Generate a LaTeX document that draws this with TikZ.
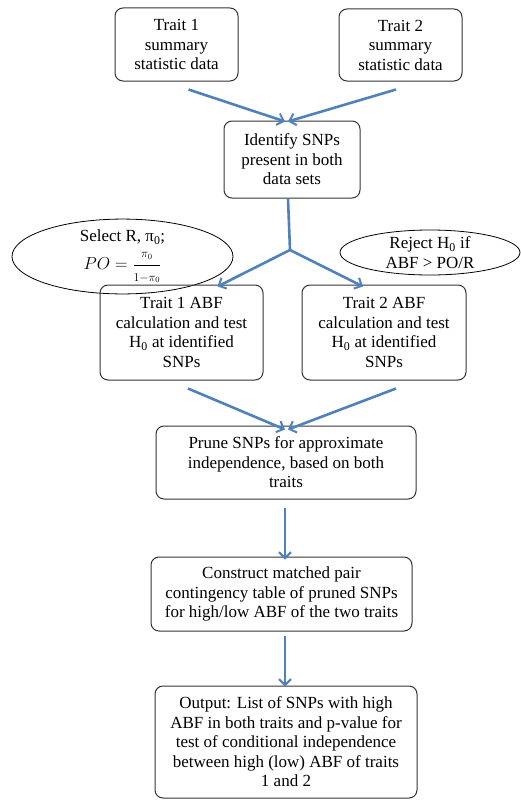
\documentclass[tikz,border=0pt]{standalone}
\usepackage{fontspec}
\setmainfont{Liberation Serif}
\usetikzlibrary{arrows.meta,calc,shapes.geometric}
\definecolor{arrblue}{HTML}{4F81BD}
\begin{document}
\begin{tikzpicture}[x=1pt,y=-1pt,
  box/.style={draw=black!80,line width=1pt,rounded corners=8pt,align=center,inner sep=2pt,font=\fontsize{17}{19.5}\selectfont},
  ell/.style={draw=black,line width=0.8pt,ellipse,align=center,inner sep=0pt,font=\fontsize{17}{19.5}\selectfont},
  arr/.style={draw=arrblue,line width=2.6pt,-{Straight Barb[length=6pt,width=12pt,line width=2pt]}},
  ln/.style={draw=arrblue,line width=2.6pt}]
\useasboundingbox (0,0) rectangle (521,800);
\node[box,minimum width=123pt,minimum height=73pt] (b1) at (176.5,44.5) {Trait 1\\summary\\statistic data};
\node[box,minimum width=123pt,minimum height=72pt] (b2) at (400.5,45) {Trait 2\\summary\\statistic data};
\node[box,minimum width=136pt,minimum height=77pt] (id) at (292,159.5) {Identify SNPs\\present in both\\data sets};
\node[ell,minimum width=221pt,minimum height=53pt] (e1) at (122.5,256.5) {\raisebox{3pt}{Select R, π\textsubscript{0};}\\[5pt]$\displaystyle PO=\frac{\scriptstyle\pi_0}{\scriptstyle 1-\pi_0}$};
\node[ell,minimum width=180pt,minimum height=45pt] (e2) at (430,252.5) {Reject H\textsubscript{0} if\\ABF > PO/R};
\node[box,minimum width=163pt,minimum height=95pt] (t1) at (181.5,332.5) {Trait 1 ABF\\calculation and test\\H\textsubscript{0} at identified\\SNPs};
\node[box,minimum width=164pt,minimum height=95pt] (t2) at (384,332.5) {Trait 2 ABF\\calculation and test\\H\textsubscript{0} at identified\\SNPs};
\node[box,minimum width=260pt,minimum height=73pt] (pr) at (286,462.5) {Prune SNPs for approximate\\independence, based on both\\traits};
\node[box,minimum width=261pt,minimum height=74pt] (co) at (281.5,594) {Construct matched pair\\contingency table of pruned SNPs\\for high/low ABF of the two traits};
\node[box,minimum width=262pt,minimum height=112pt] (ou) at (286,742) {Output: List of SNPs with high\\ABF in both traits and p-value for\\test of conditional independence\\between high (low) ABF of traits\\1 and 2};
\coordinate (br) at (290,250);
\draw[arr] ([xshift=12pt,yshift=-8pt]b1.south) -- ([xshift=-7pt,yshift=-1pt]id.north);
\draw[arr] ([xshift=-4.5pt,yshift=-8pt]b2.south) -- ([xshift=-4pt,yshift=-1pt]id.north);
\draw[ln] ([xshift=-4pt]id.south) -- (br);
\draw[arr] (br) -- ([xshift=36pt,yshift=-2pt]t1.north);
\draw[arr] (br) -- ([xshift=-21pt,yshift=-2pt]t2.north);
\draw[arr] ([xshift=6.5pt,yshift=-8pt]t1.south) -- ([xshift=-1pt,yshift=-4pt]pr.north);
\draw[arr] ([xshift=12pt,yshift=-8pt]t2.south) -- ([xshift=2pt,yshift=-4pt]pr.north);
\draw[arr] ([xshift=-1pt,yshift=-8pt]pr.south) -- ([xshift=3.5pt,yshift=-3pt]co.north);
\draw[arr] ([xshift=3.5pt,yshift=-4pt]co.south) -- ([xshift=-1pt,yshift=-1pt]ou.north);
\end{tikzpicture}
\end{document}
